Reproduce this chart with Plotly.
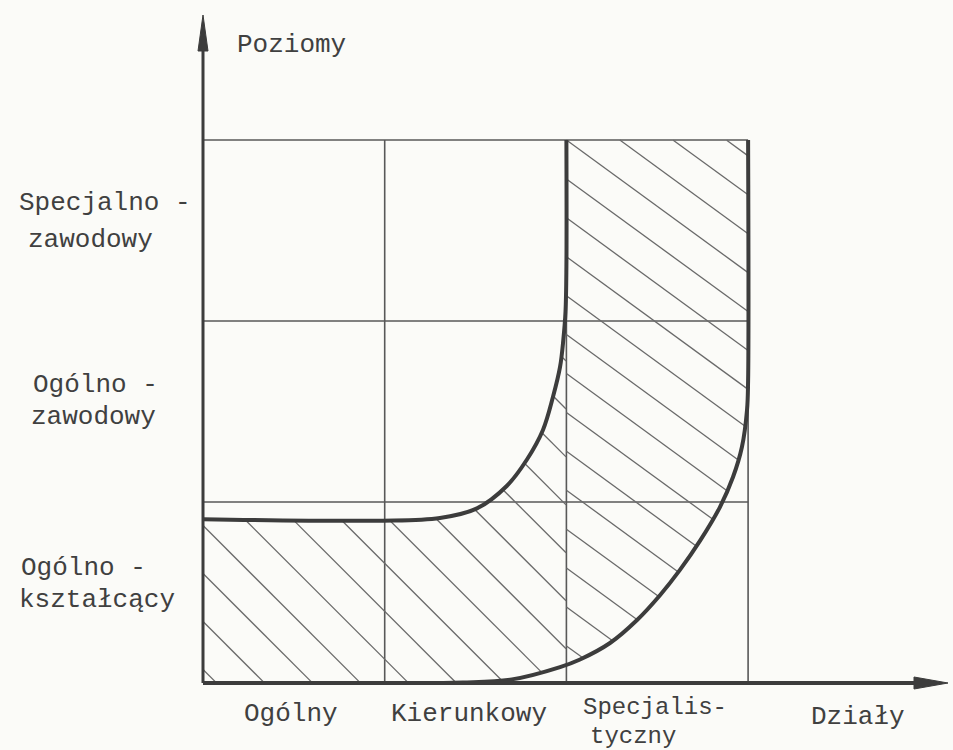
import numpy as np
import plotly.graph_objects as go

# ---------------- data ----------------
level_labels = [["Ogólno -", "kształcący"], ["Ogólno -", "zawodowy"], ["Specjalno -", "zawodowy"]]
dept_labels = [["Ogólny"], ["Kierunkowy"], ["Specjalis-", "tyczny"]]
y_axis_title = "Poziomy"
x_axis_title = "Działy"

grid_x = [0, 1, 2, 3]
grid_y = [0, 1, 2, 3]

# inner boundary of the hatched zone (thick curve)
inner_x = [0.0, 0.974, 1.304, 1.508, 1.673, 1.783, 1.871, 1.926, 1.965, 1.983, 1.995, 2.0, 2.0]
inner_y = [0.905, 0.897, 0.912, 0.965, 1.09, 1.235, 1.398, 1.580, 1.746, 1.895, 2.05, 2.3, 3.0]
# outer boundary of the hatched zone (thick curve)
outer_x = [1.10, 1.43, 1.70, 1.965, 2.075, 2.24, 2.389, 2.515, 2.625, 2.735, 2.845, 2.917, 2.966, 2.994, 3.0, 3.0]
outer_y = [0.0, 0.003, 0.02, 0.088, 0.130, 0.221, 0.348, 0.485, 0.625, 0.785, 0.972, 1.138, 1.304, 1.508, 1.67, 3.0]

# ---------------- geometry / style ----------------
XU, YU = 181.7, 181.0          # pixels per unit
X0, Y0 = 203.0, 683.0          # pixel position of origin
W, H = 953, 750
xr = [-X0 / XU, (W - X0) / XU]
yr = [-(H - Y0) / YU, Y0 / YU]

INK = "#3c3c3c"
GRID = "#585858"
HATCH = "#6a6a6a"
TXT = "#404040"
BG = "#fbfbf8"
FONT = "Liberation Mono"

fig = go.Figure()

# grid
for gx in grid_x:
    fig.add_trace(go.Scatter(x=[gx, gx], y=[grid_y[0], grid_y[-1]], mode="lines",
                             line=dict(color=GRID, width=1.6), hoverinfo="skip"))
for gy in grid_y[1:]:
    fig.add_trace(go.Scatter(x=[grid_x[0], grid_x[-1]], y=[gy, gy], mode="lines",
                             line=dict(color=GRID, width=1.6), hoverinfo="skip"))

# hatched zone polygon
poly = np.array([(0.0, 0.0)] + list(zip(outer_x, outer_y)) + [(2.0, 3.0)]
                + list(zip(inner_x[::-1], inner_y[::-1])) + [(0.0, 0.0)])


def inside(px, py, pg):
    x1, y1 = pg[:-1, 0], pg[:-1, 1]
    x2, y2 = pg[1:, 0], pg[1:, 1]
    P, Q = px[:, None], py[:, None]
    cond = (y1 > Q) != (y2 > Q)
    with np.errstate(divide="ignore", invalid="ignore"):
        xint = x1 + (Q - y1) * (x2 - x1) / np.where(y2 - y1 == 0, 1e-12, y2 - y1)
    return ((cond & (P < xint)).sum(axis=1) % 2) == 1


def hatch(slope_px, dy, phase, xlo, xhi):
    s = slope_px * XU / YU
    hx, hy = [], []
    xs = np.arange(xlo + 1e-4, xhi - 1e-4, 0.002)
    cmax = 3.5 + s * xhi
    for c in np.arange(phase - 40 * dy, cmax, dy):
        if c < -0.5:
            continue
        ys = c - s * xs
        m = inside(xs, ys, poly)
        if not m.any():
            continue
        idx = np.flatnonzero(m)
        breaks = np.flatnonzero(np.diff(idx) > 1)
        starts = np.r_[idx[0], idx[breaks + 1]]
        ends = np.r_[idx[breaks], idx[-1]]
        for a, b in zip(starts, ends):
            hx += [xs[a], xs[b], None]
            hy += [ys[a], ys[b], None]
    return hx, hy


ax, ay = hatch(1.0, 0.265, 0.87, 0.0, 2.0)
bx, by = hatch(0.73, 0.215, 3.0 + 0.73 * 2 * XU / YU, 2.0, 3.0)
fig.add_trace(go.Scatter(x=ax + bx, y=ay + by, mode="lines",
                         line=dict(color=HATCH, width=1.3), hoverinfo="skip"))

# thick curves
fig.add_trace(go.Scatter(x=inner_x, y=inner_y, mode="lines",
                         line=dict(color=INK, width=4, shape="spline", smoothing=1.0), hoverinfo="skip"))
fig.add_trace(go.Scatter(x=outer_x, y=outer_y, mode="lines",
                         line=dict(color=INK, width=4, shape="spline", smoothing=1.0), hoverinfo="skip"))

# axes with arrows
y_tip = (Y0 - 15) / YU
x_tip = (948 - X0) / XU
ah_y, aw_y = 36 / YU, 5 / XU
ah_x, aw_x = 34 / XU, 6 / YU
fig.add_trace(go.Scatter(x=[0, 0], y=[0, y_tip - ah_y * 0.5], mode="lines",
                         line=dict(color=INK, width=3), hoverinfo="skip"))
fig.add_trace(go.Scatter(x=[0, x_tip - ah_x * 0.5], y=[0, 0], mode="lines",
                         line=dict(color=INK, width=4), hoverinfo="skip"))
fig.add_trace(go.Scatter(x=[-aw_y, 0, aw_y, -aw_y], y=[y_tip - ah_y, y_tip, y_tip - ah_y, y_tip - ah_y],
                         mode="lines", fill="toself", fillcolor=INK, line=dict(color=INK, width=1),
                         hoverinfo="skip"))
fig.add_trace(go.Scatter(x=[x_tip - ah_x, x_tip, x_tip - ah_x, x_tip - ah_x], y=[aw_x, 0, -aw_x, aw_x],
                         mode="lines", fill="toself", fillcolor=INK, line=dict(color=INK, width=1),
                         hoverinfo="skip"))


def px2x(p):
    return (p - X0) / XU


def px2y(p):
    return (Y0 - p) / YU


ann = []
fnt = dict(family=FONT, size=26, color=TXT)
fnt_small = dict(family=FONT, size=24, color=TXT)
ann.append(dict(x=px2x(291), y=px2y(45), text=y_axis_title, xanchor="center", font=fnt))
ann.append(dict(x=px2x(858), y=px2y(717), text=x_axis_title, xanchor="center", font=fnt))
# level labels (line by line, left-aligned at their own offsets)
lvl_pos = [[(20, 568), (18, 600)], [(32, 385), (30, 417)], [(18, 203), (27, 240)]]
for lines, pos in zip(level_labels, lvl_pos):
    for t, (lx, ly) in zip(lines, pos):
        ann.append(dict(x=px2x(lx), y=px2y(ly), text=t, xanchor="left", font=fnt))
# department labels
dep_pos = [[(291, 714)], [(469, 714)], [(655, 707), (633, 736)]]
for lines, pos in zip(dept_labels, dep_pos):
    for t, (dx, dy) in zip(lines, pos):
        ann.append(dict(x=px2x(dx), y=px2y(dy), text=t, xanchor="center",
                        font=fnt if len(lines) == 1 else fnt_small))

for a in ann:
    a.update(showarrow=False, xref="x", yref="y", yanchor="middle", borderpad=0)

fig.update_layout(
    width=W, height=H, margin=dict(l=0, r=0, t=0, b=0),
    paper_bgcolor=BG, plot_bgcolor=BG, showlegend=False,
    xaxis=dict(range=xr, visible=False, fixedrange=True),
    yaxis=dict(range=yr, visible=False, fixedrange=True),
    annotations=ann,
)
fig.write_html("out.html", config={"displayModeBar": False},
               post_script="document.body.style.margin='0';document.body.style.background='%s';" % BG)
